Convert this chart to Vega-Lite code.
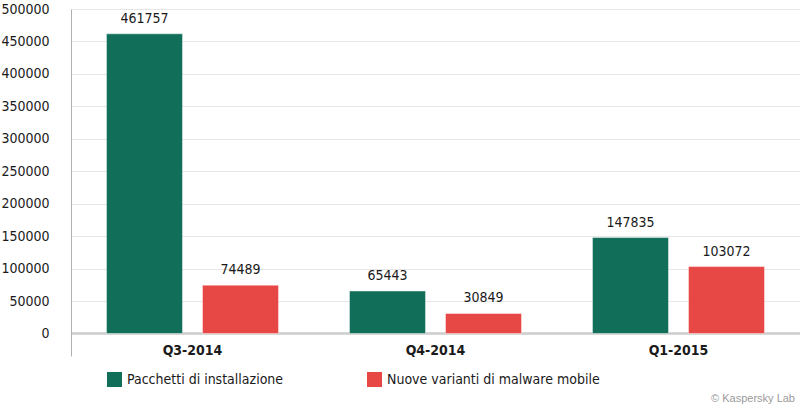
{
  "$schema": "https://vega.github.io/schema/vega-lite/v6.json",
  "autosize": "none",
  "padding": {"left": 71, "top": 9, "right": 0, "bottom": 55},
  "width": 729,
  "height": 347,
  "background": "white",
  "title": {
    "text": "© Kaspersky Lab",
    "orient": "bottom",
    "anchor": "end",
    "font": "Liberation Sans",
    "fontSize": 11,
    "fontWeight": "normal",
    "color": "#9a9a9a",
    "offset": 6,
    "dx": -5
  },
  "data": {
    "values": [
      {"quarter": "Q3-2014", "serie": "Pacchetti di installazione", "value": 461757},
      {"quarter": "Q3-2014", "serie": "Nuove varianti di malware mobile", "value": 74489},
      {"quarter": "Q4-2014", "serie": "Pacchetti di installazione", "value": 65443},
      {"quarter": "Q4-2014", "serie": "Nuove varianti di malware mobile", "value": 30849},
      {"quarter": "Q1-2015", "serie": "Pacchetti di installazione", "value": 147835},
      {"quarter": "Q1-2015", "serie": "Nuove varianti di malware mobile", "value": 103072}
    ]
  },
  "encoding": {
    "x": {
      "field": "quarter",
      "type": "nominal",
      "sort": null,
      "title": null,
      "scale": {"paddingInner": 0.292, "paddingOuter": 0.146},
      "axis": {
        "offset": -22,
        "domain": false,
        "ticks": false,
        "labelAngle": 0,
        "labelFont": "DejaVu Sans Condensed",
        "labelFontSize": 14,
        "labelFontWeight": "bold",
        "labelColor": "#1a1a1a",
        "labelPadding": 9,
        "labelBaseline": "top"
      }
    },
    "xOffset": {
      "field": "serie",
      "type": "nominal",
      "sort": ["Pacchetti di installazione", "Nuove varianti di malware mobile"],
      "scale": {"paddingInner": 0.208, "paddingOuter": 0}
    },
    "y": {
      "field": "value",
      "type": "quantitative",
      "title": null,
      "scale": {"domain": [-34700, 500000], "nice": false, "zero": false},
      "axis": {
        "values": [0, 50000, 100000, 150000, 200000, 250000, 300000, 350000, 400000, 450000, 500000],
        "format": "d",
        "ticks": false,
        "domainColor": "#b0b0b0",
        "domainWidth": 1,
        "gridColor": {"condition": {"test": "datum.value === 0", "value": "#cccccc"}, "value": "#e6e6e6"},
        "gridWidth": {"condition": {"test": "datum.value === 0", "value": 2.5}, "value": 1},
        "labelFont": "DejaVu Sans Condensed",
        "labelFontSize": 14,
        "labelColor": "#1a1a1a",
        "labelPadding": 22
      }
    }
  },
  "layer": [
    {
      "mark": {"type": "bar", "stroke": "white", "strokeOpacity": 0.45, "strokeWidth": 1},
      "encoding": {
        "color": {
          "field": "serie",
          "type": "nominal",
          "sort": ["Pacchetti di installazione", "Nuove varianti di malware mobile"],
          "scale": {
            "domain": ["Pacchetti di installazione", "Nuove varianti di malware mobile"],
            "range": ["#116e58", "#e84845"]
          },
          "legend": {
            "title": null,
            "orient": "none",
            "direction": "horizontal",
            "legendX": 36,
            "legendY": 363,
            "symbolType": "square",
            "symbolSize": 225,
            "symbolStrokeWidth": 0,
            "symbolOpacity": 1,
            "labelFont": "DejaVu Sans Condensed",
            "labelFontSize": 14,
            "labelColor": "#1a1a1a",
            "labelOffset": 5,
            "labelLimit": 400,
            "columnPadding": 83
          }
        }
      }
    },
    {
      "mark": {
        "type": "text",
        "baseline": "alphabetic",
        "dy": -11,
        "font": "DejaVu Sans Condensed",
        "fontSize": 14,
        "color": "#1a1a1a"
      },
      "encoding": {
        "text": {"field": "value", "type": "quantitative", "format": "d"}
      }
    }
  ],
  "config": {
    "view": {"stroke": null}
  }
}
